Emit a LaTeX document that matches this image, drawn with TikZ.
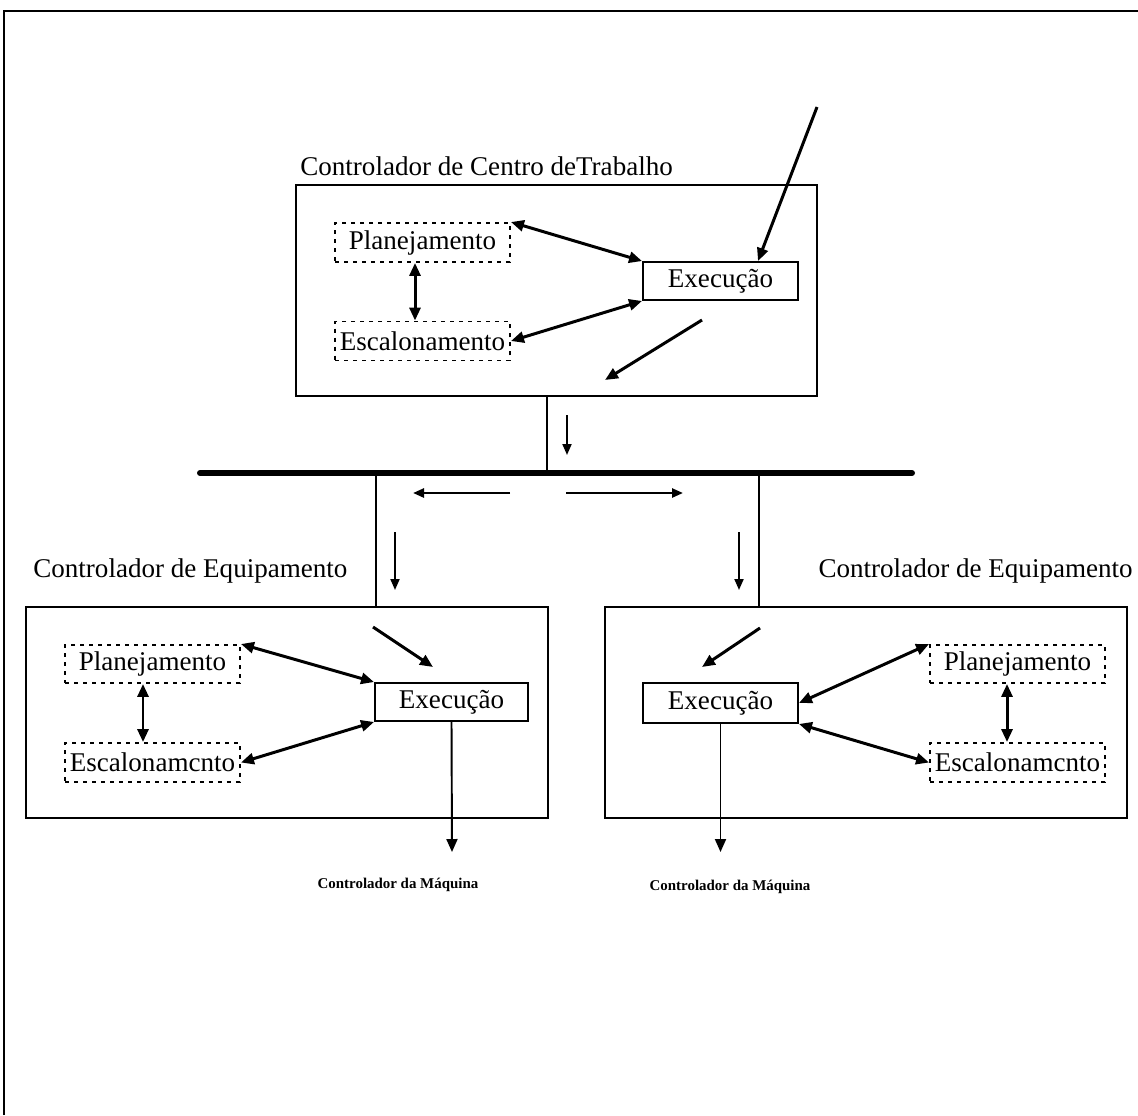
\documentclass[tikz,border=0pt]{standalone}
\usepackage{fontspec}
\setmainfont{Liberation Serif}
\usetikzlibrary{arrows.meta}
\begin{document}
\begin{tikzpicture}[x=0.02cm,y=-0.02cm,
  panel/.style={draw,line width=1.1pt,inner sep=0pt,minimum width=10.44cm,minimum height=4.22cm},
  execbox/.style={draw,line width=1.1pt,inner sep=0pt,minimum width=3.1cm,minimum height=0.78cm,font=\fontsize{15.4pt}{17pt}\selectfont},
  dotbox/.style={draw,line width=1.1pt,dash pattern=on 0.08cm off 0.1cm,inner sep=0pt,minimum width=3.5cm,minimum height=0.78cm,font=\fontsize{15.4pt}{17pt}\selectfont},
  heading/.style={inner sep=0pt,font=\fontsize{15.4pt}{17pt}\selectfont},
  small/.style={inner sep=0pt,font=\fontsize{8.5pt}{10pt}\selectfont\bfseries},
  flow/.style={line width=1.7pt,-{Triangle[length=0.26cm,width=0.22cm]}},
  both/.style={line width=1.7pt,{Triangle[length=0.26cm,width=0.22cm]}-{Triangle[length=0.26cm,width=0.22cm]}},
  thinflow/.style={line width=1.1pt,-{Triangle[length=0.22cm,width=0.18cm]}},
  wire/.style={line width=0.6pt},
  bus/.style={line width=3.4pt,line cap=round}]
\useasboundingbox (0,0) rectangle (1138,1115);

% page frame
\draw[line width=1.5pt] (4,1115) -- (4,11) -- (1138,11);

% work-centre controller
\node[heading,anchor=base west] (ttitle) at (300,175) {Controlador de Centro deTrabalho};
\node[panel] (topbox) at (556.5,290.5) {};
\node[dotbox] (tplan) at (422.5,242.5) {Planejamento};
\node[dotbox] (tesc) at (422.5,341) {Escalonamento};
\node[execbox,minimum height=0.76cm] (texec) at (720.5,281) {Execução};

\draw[both] (tplan.north east) -- (texec.north west);
\draw[both] (tesc.east) -- (texec.south west);
\draw[both] ([xshift=-0.15cm]tplan.south) -- ([xshift=-0.15cm]tesc.north);
\coordinate (tin) at (817,107);
\draw[flow] (tin) -- ([xshift=0.75cm]texec.north);
\coordinate (toutA) at (702,320);
\coordinate (toutB) at (605,380);
\draw[flow] (toutA) -- (toutB);

% network bus
\coordinate (busL) at (200,473);
\coordinate (busR) at (912,473);
\draw[bus] (busL) -- (busR);
\coordinate (cTop) at (547,473);
\coordinate (cL) at (376,473);
\coordinate (cR) at (759,473);
\draw[wire] (cTop |- topbox.south) -- (cTop);
\coordinate (dA1) at (567,415);
\coordinate (dA2) at (567,455);
\draw[thinflow] (dA1) -- (dA2);
\coordinate (hL1) at (510,493);
\coordinate (hL2) at (413,493);
\coordinate (hR1) at (566,493);
\coordinate (hR2) at (683,493);
\draw[thinflow,line width=1.4pt] (hL1) -- (hL2);
\draw[thinflow,line width=1.4pt] (hR1) -- (hR2);

% equipment controllers
\node[heading,anchor=base west] (ltitle) at (33,577) {Controlador de Equipamento};
\node[heading,anchor=base east] (rtitle) at (1133,577) {Controlador de Equipamento};
\node[panel] (lbox) at (287,712.5) {};
\node[panel] (rbox) at (866,712.5) {};
\draw[wire] (cL) -- (cL |- lbox.north);
\draw[wire] (cR) -- (cR |- rbox.north);
\coordinate (dL1) at (395,532);
\coordinate (dL2) at (395,590);
\coordinate (dR1) at (739,532);
\coordinate (dR2) at (739,590);
\draw[thinflow] (dL1) -- (dL2);
\draw[thinflow] (dR1) -- (dR2);

% left equipment controller
\node[dotbox,minimum height=0.76cm] (lplan) at (152.5,664) {Planejamento};
\node[dotbox] (lesc) at (152.5,762.5) {Escalonamcnto};
\node[execbox,minimum width=3.06cm,minimum height=0.76cm] (lexec) at (451.5,702) {Execução};
\draw[both] (lplan.north east) -- (lexec.north west);
\draw[both] (lesc.east) -- (lexec.south west);
\draw[both] ([xshift=-0.19cm]lplan.south) -- ([xshift=-0.19cm]lesc.north);
\coordinate (lin1) at (373,627);
\coordinate (lin2) at (433,667);
\draw[flow] (lin1) -- (lin2);
\coordinate (lout) at (452,852);
\draw[flow,line width=1.1pt] (lexec.south) -- (lout);
\node[small] (lmach) at (398,885) {Controlador da Máquina};

% right equipment controller
\node[execbox,minimum height=0.8cm] (rexec) at (720.5,703) {Execução};
\node[dotbox,minimum height=0.76cm] (rplan) at (1017.5,664) {Planejamento};
\node[dotbox] (resc) at (1017.5,762.5) {Escalonamcnto};
\draw[both] (rexec.east) -- (rplan.north west);
\draw[both] (rexec.south east) -- (resc.west);
\draw[both] ([xshift=-0.21cm]rplan.south) -- ([xshift=-0.21cm]resc.north);
\coordinate (rin1) at (760,628);
\coordinate (rin2) at (702,667);
\draw[flow] (rin1) -- (rin2);
\coordinate (rout) at (720.5,852);
\draw[flow,line width=1.1pt] (rexec.south) -- (rout);
\node[small] (rmach) at (730,887) {Controlador da Máquina};
\end{tikzpicture}
\end{document}
